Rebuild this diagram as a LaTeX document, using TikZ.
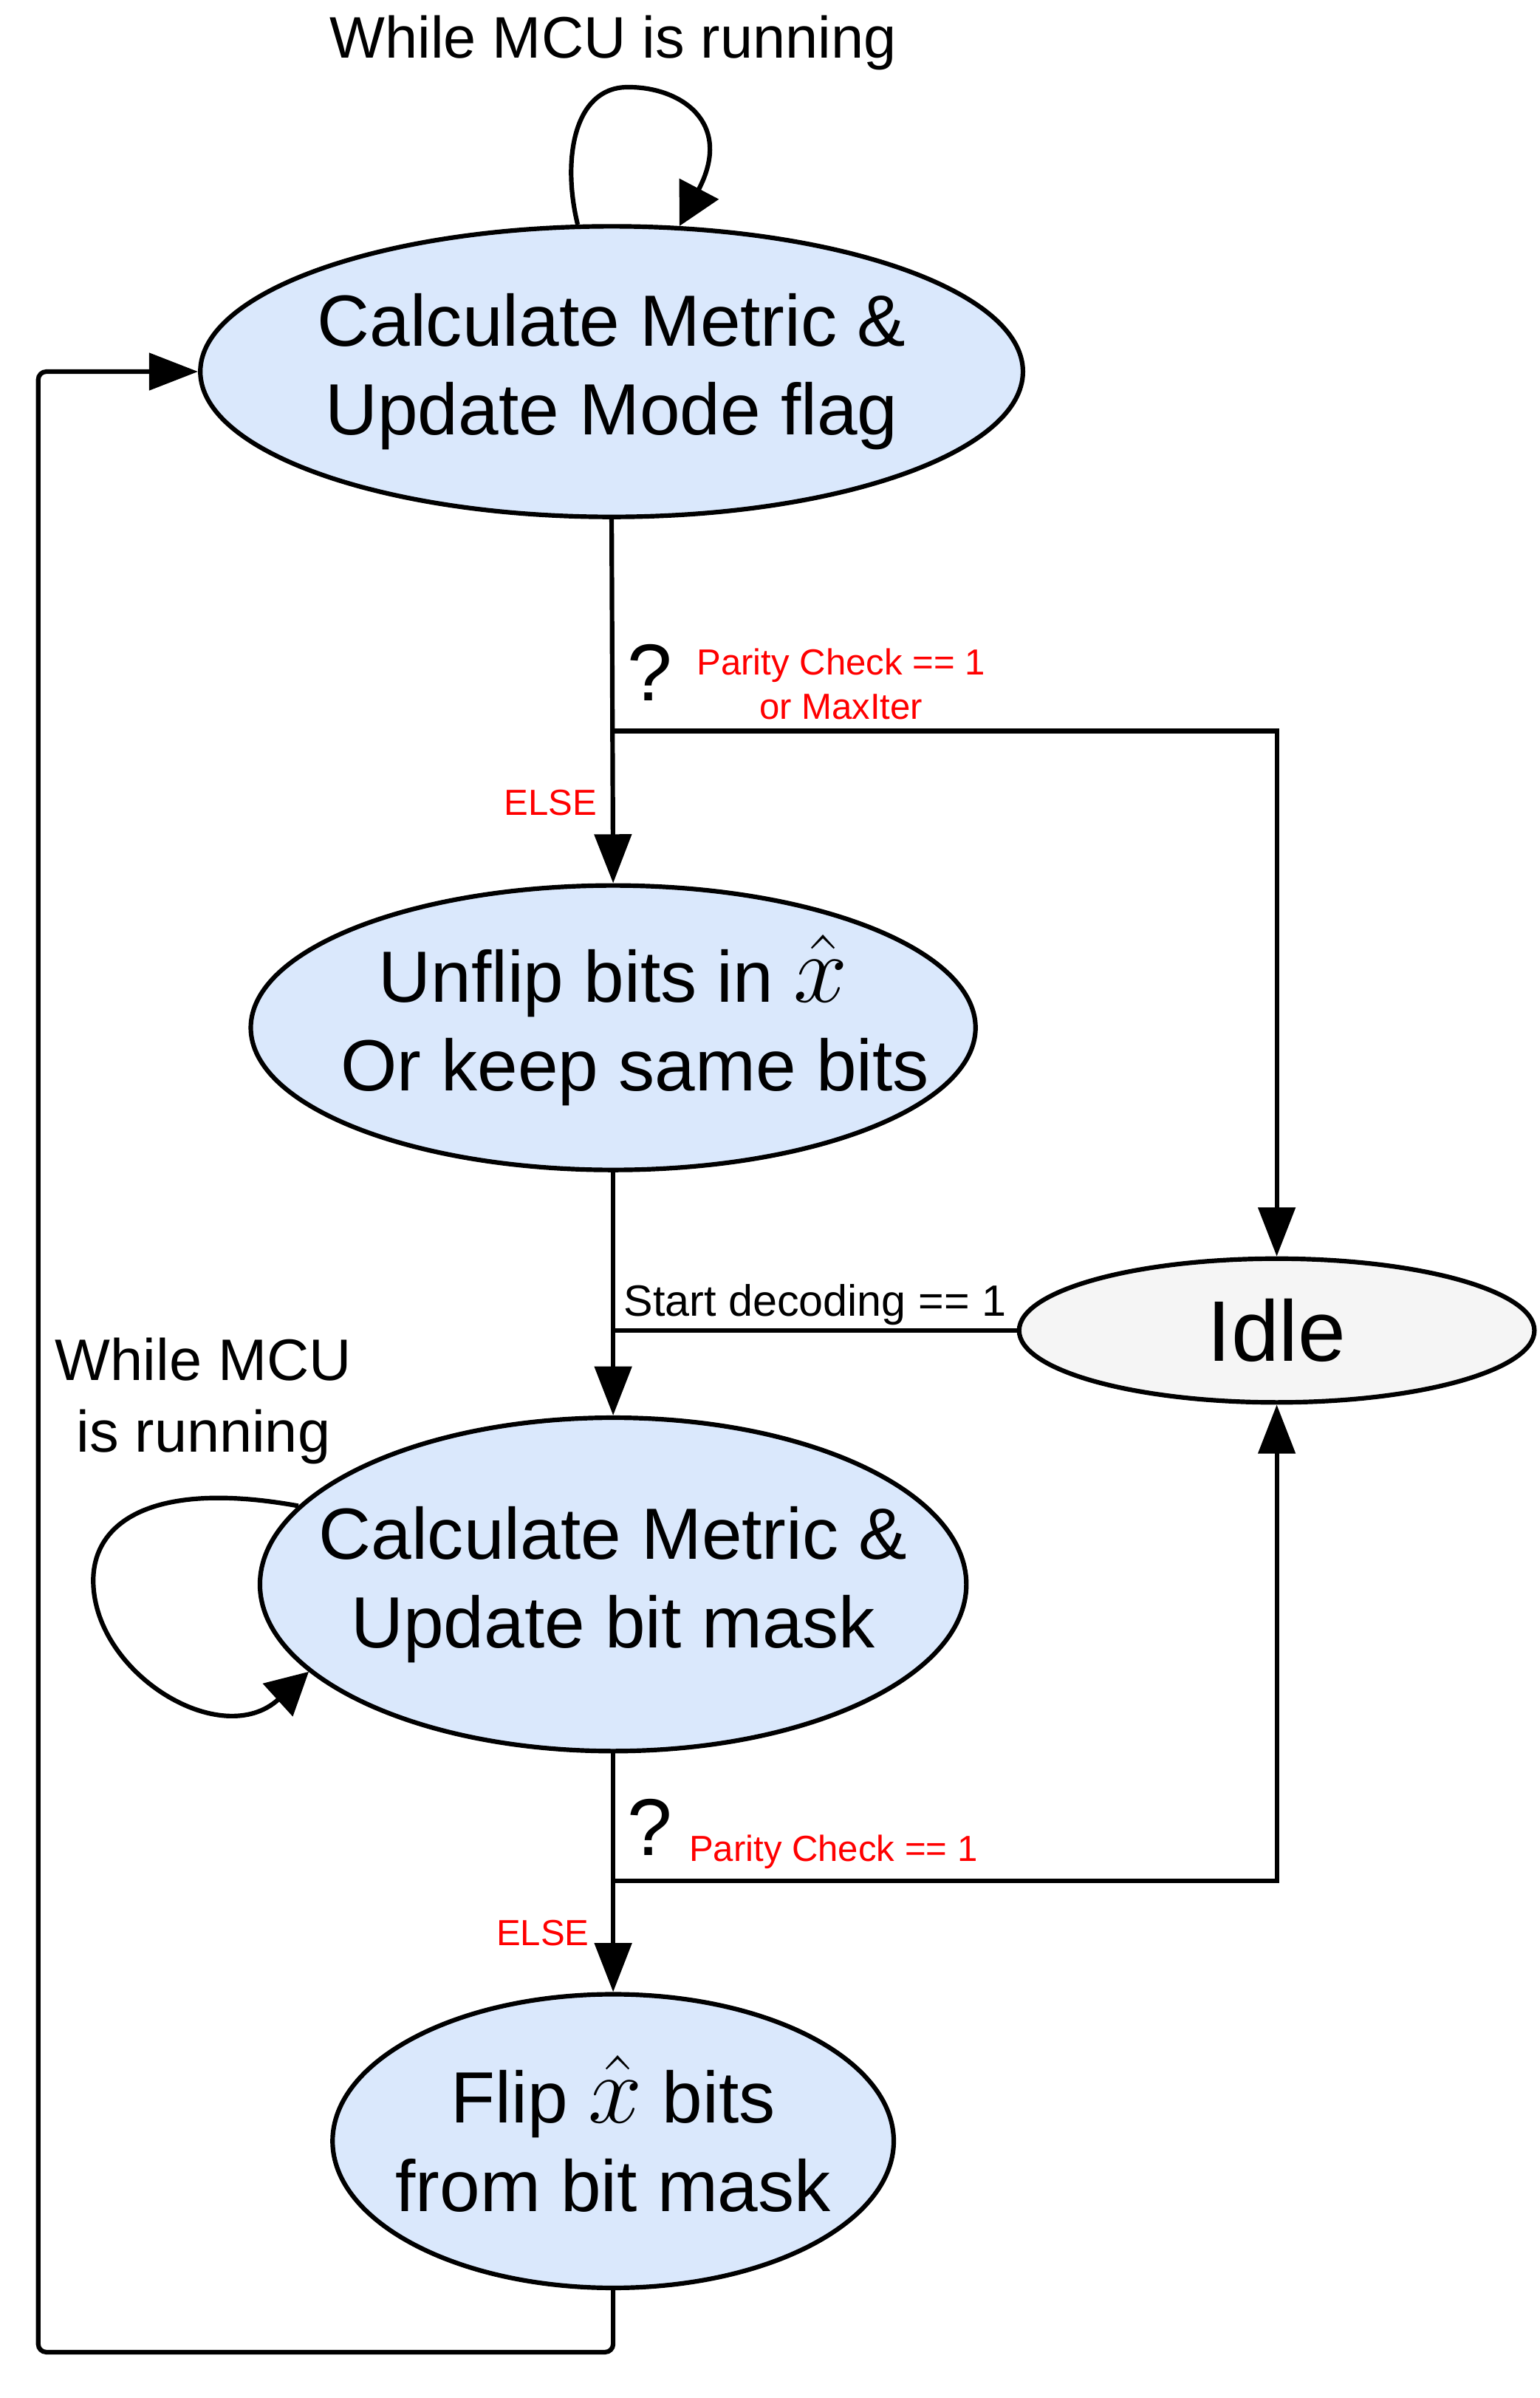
\documentclass[tikz,border=0pt]{standalone}
\usepackage{fontspec}
\setmainfont{Liberation Sans}
\usetikzlibrary{arrows.meta,shapes.geometric}
\definecolor{stateblue}{HTML}{DAE8FC}
\definecolor{idlegray}{HTML}{F5F5F5}
\newcommand{\xhat}{\smash{\scalebox{1.45}{$\hat{x}$}}}

\begin{document}
\begin{tikzpicture}[>={Triangle[length=0.64cm,width=0.48cm]}, line width=1.7pt,
    state/.style={ellipse, draw=black, line width=1.7pt, fill=stateblue, inner sep=0pt},
    big/.style={font=\fontsize{27}{33}\selectfont, align=center},
    cond/.style={font=\fontsize{13.5}{16.5}\selectfont, text=red, align=center},
    note/.style={font=\fontsize{21.8}{26.7}\selectfont, align=center},
    loop/.style={-{Triangle[length=0.55cm,width=0.57cm]}}]
    \useasboundingbox (0,0) rectangle (20.14,-31.36);
    % states
    \node (calc1) [state, minimum width=10.76cm, minimum height=3.8cm,
        label={[big]center:Calculate Metric \&\\Update Mode flag}] at (8.0,-4.86) {};
    \node (unflip) [state, minimum width=9.48cm, minimum height=3.72cm,
        label={[big]center:Unflip bits in \xhat\\\hspace{0.6em}Or keep same bits}] at (8.02,-13.44) {};
    \node (idle) [ellipse, draw=black, fill=idlegray, inner sep=0pt, minimum width=6.74cm,
        minimum height=1.88cm, font=\fontsize{32}{38}\selectfont] at (16.7,-17.4) {Idle};
    \node (calc2) [state, minimum width=9.24cm, minimum height=4.36cm,
        label={[big]center:Calculate Metric \&\\Update bit mask}] at (8.02,-20.72) {};
    \node (flip) [state, minimum width=7.34cm, minimum height=3.84cm,
        label={[big]center:Flip \xhat\ bits\\from bit mask}] at (8.02,-28.0) {};
    % texts
    \node (mcu1) [note] at (8.02,-0.56) {While MCU is running};
    \node (mcu2) [note] at (2.66,-18.32) {While MCU\\is running};
    \node (q1) [font=\fontsize{30}{36}\selectfont] at (8.5,-8.8) {?};
    \node (pc1) [cond] at (11.0,-8.95) {Parity Check == 1\\or MaxIter};
    \node (else1) [cond] at (7.2,-10.5) {ELSE};
    \node (start) [font=\fontsize{16.3}{19}\selectfont] at (10.66,-17.06) {Start decoding == 1};
    \node (q2) [font=\fontsize{30}{36}\selectfont] at (8.5,-23.9) {?};
    \node (pc2) [cond] at (10.9,-24.22) {Parity Check == 1};
    \node (else2) [cond] at (7.1,-25.28) {ELSE};
    % connectors
    \coordinate (split1) at (8.02,-9.56);
    \coordinate (split2) at (8.02,-24.6);
    \coordinate (back) at (0.5,-30.76);
    \draw [->] (calc1.south) -- (unflip.north);
    \draw [->] (split1) -| (idle.north);
    \draw [->] (unflip.south) -- (calc2.north);
    \draw (idle.west) -- (idle.west -| unflip.south);
    \draw [->] (calc2.south) -- (flip.north);
    \draw [->] (split2) -| (idle.south);
    \draw [->, rounded corners=3pt] (flip.south) |- (back) |- (calc1.west);
    % self loops
    \draw [loop] (calc1.103) .. controls (7.35,-2.1) and (7.5,-1.15) .. (8.2,-1.14)
        .. controls (8.9,-1.13) and (9.6,-1.6) .. (calc1.65);
    \draw [loop] (calc2.166) .. controls (2.0,-19.35) and (1.2,-19.9) .. (1.22,-20.7)
        .. controls (1.25,-21.9) and (2.9,-22.9) .. (calc2.196);
\end{tikzpicture}
\end{document}
